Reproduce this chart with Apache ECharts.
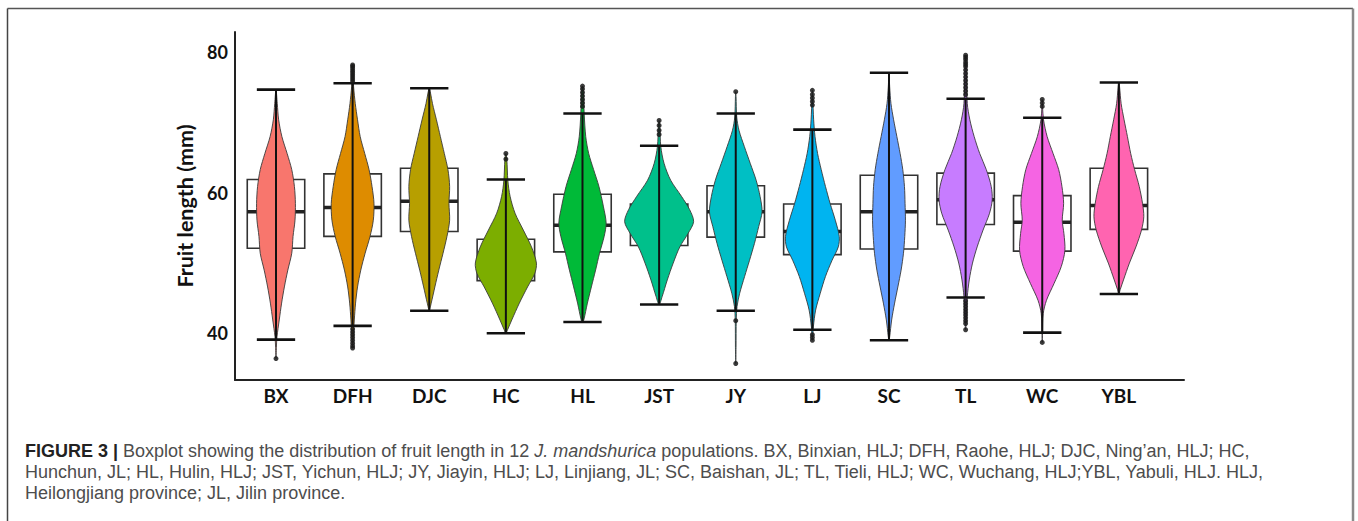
<!DOCTYPE html>
<html>
<head>
<meta charset="utf-8">
<script src="https://cdn.jsdelivr.net/npm/echarts@6/dist/echarts.min.js"></script>
<style>
html,body{margin:0;padding:0;background:#fff;}
#chart{width:1358px;height:521px;}
</style>
</head>
<body>
<div id="chart"></div>
<script>
// ---- data ----
const categories = ['BX','DFH','DJC','HC','HL','JST','JY','LJ','SC','TL','WC','YBL'];
const yTicks = [40, 60, 80];
const whiskerLow  = [39.1, 41.05, 43.2, 40.0, 41.6, 44.1, 43.2, 40.5, 39.0, 45.1, 40.1, 45.6];
const q1          = [52.1, 53.8, 54.5, 47.5, 51.6, 52.5, 53.7, 51.2, 52.0, 55.5, 51.7, 54.8];
const medians     = [57.3, 57.9, 58.8, 50.3, 55.4, 55.6, 57.3, 54.5, 57.3, 59.0, 55.8, 58.2];
const q3          = [61.9, 62.7, 63.5, 53.4, 59.8, 58.4, 61.0, 58.4, 62.5, 62.8, 59.6, 63.5];
const whiskerHigh = [74.7, 75.6, 74.9, 61.9, 71.3, 66.7, 71.3, 69.0, 77.1, 73.4, 70.7, 75.7];

const outliers = [
  [36.4],
  [75.9, 76.2, 76.5, 76.8, 77.1, 77.4, 77.7, 78.0, 78.2, 40.6, 40.2, 39.8, 39.4, 39.0, 38.6, 38.2, 37.9],
  [],
  [64.8, 65.6],
  [72.3, 72.8, 73.3, 73.8, 74.3, 74.8, 75.2],
  [68.3, 68.9, 69.6, 70.3],
  [74.4, 41.8, 35.7],
  [72.5, 73.0, 73.5, 74.0, 74.6, 39.8, 39.4, 39.0],
  [],
  [74.0, 74.5, 75.0, 75.5, 76.0, 76.5, 77.0, 77.5, 78.0, 78.3, 78.6, 79.0, 79.3, 79.6,
   44.6, 44.2, 43.8, 43.4, 43.0, 42.6, 42.2, 41.8, 41.4, 40.5],
  [72.3, 72.8, 73.3, 38.7],
  []
];

// violin density profiles: [fruit length, relative density], top to bottom
const violinBX  = [[74.7,0],[72.7,1.3],[70.4,2.7],[68.0,6],[65.6,11.3],[63.3,16],[60.9,18.7],[58.5,19.7],[56.1,19.3],[53.8,17.3],[51.4,16],[49.0,12],[46.6,8.5],[44.3,5.7],[41.9,3.3],[39.5,1],[38.0,0.4],[36.4,0]];
const violinDFH = [[78.2,0],[77.0,0.4],[75.1,1],[72.7,2.7],[70.4,5],[68.0,7.7],[65.6,12.3],[63.3,16.7],[60.9,19.7],[58.5,21.7],[56.1,21],[53.8,17.7],[51.4,12.7],[49.0,8.3],[46.6,5],[44.3,3],[41.9,1.7],[39.5,0.7],[37.9,0]];
const violinDJC = [[74.9,0],[74.2,1.3],[72.7,3.3],[70.4,7.3],[68.0,11.3],[65.6,15.3],[63.3,19],[60.9,20.7],[58.5,20],[56.1,20.7],[53.8,18],[51.4,14],[49.0,9.7],[46.6,5.7],[44.3,2],[43.3,0]];
const violinHC  = [[65.6,0],[64.7,1],[61.8,2],[59.5,4.3],[57.1,9.3],[54.7,17.7],[52.3,26],[50.0,31],[48.5,29.3],[46.6,22],[44.3,13.7],[41.9,6],[40.5,1.7],[40.0,0]];
const violinHL  = [[75.2,0],[74.2,1],[71.3,1.7],[68.0,3.3],[65.6,6.3],[63.3,11.3],[60.9,16.7],[58.0,21.3],[55.7,24],[53.8,22],[51.4,17.3],[49.0,13.3],[46.6,9],[44.3,5],[41.9,1.3],[41.6,0]];
const violinJST = [[70.3,0],[69.4,0.7],[66.6,1.7],[64.2,5],[61.8,11.7],[59.5,22.7],[57.6,31],[55.9,35],[54.2,29.3],[52.3,21],[50.0,14.3],[47.6,8.3],[45.2,3],[44.1,0]];
const violinJY  = [[74.4,0],[73.7,0.3],[70.8,1],[68.9,3.3],[66.6,8.7],[64.2,14.7],[61.8,20.7],[59.5,24.7],[57.3,26.7],[55.2,23.3],[52.8,19],[50.4,14],[48.1,9],[45.7,4],[43.8,1.3],[41.9,0.5],[38.0,0.3],[35.7,0]];
const violinLJ  = [[74.6,0],[73.7,0.3],[70.4,1.3],[68.0,2.7],[65.6,5.3],[63.3,9],[60.9,13.3],[58.5,18],[56.1,23.3],[53.8,27.3],[52.3,26.3],[50.4,20],[48.1,13.3],[45.7,8],[43.3,3.3],[40.9,1],[39.0,0]];
const violinSC  = [[77.1,0],[75.1,0.7],[72.7,2],[70.4,4.7],[68.0,8],[65.6,11.3],[63.3,14],[60.9,15.7],[58.5,16.3],[56.1,16.7],[53.8,16],[51.4,14.7],[49.0,12.3],[46.6,9],[44.3,5.7],[41.9,2.7],[39.5,0.7],[39.0,0]];
const violinTL  = [[79.6,0],[77.5,0.7],[72.7,1.7],[70.4,4.3],[68.0,8.7],[65.6,14.3],[63.3,21],[60.9,26],[59.0,27],[57.1,24.3],[54.7,17.7],[52.3,11.7],[50.0,7],[47.6,3.7],[45.2,1.7],[41.9,0.7],[40.5,0]];
const violinWC  = [[73.3,0],[72.3,0.3],[70.4,1.3],[68.0,5],[65.6,11],[63.3,16.7],[60.9,20],[58.5,21.7],[56.1,20.3],[54.2,22],[51.8,23],[49.5,19.3],[47.1,12],[44.7,4.3],[42.8,1],[40.1,0.3],[38.7,0]];
const violinYBL = [[75.7,0],[75.1,0.7],[72.7,2.3],[70.4,5.3],[68.0,8.7],[65.6,12],[63.3,16],[60.9,20.7],[58.5,24],[56.6,25.3],[54.7,23],[52.3,17.3],[50.0,10.7],[47.6,4.7],[46.2,1.3],[45.6,0]];

const violins = [violinBX, violinDFH, violinDJC, violinHC, violinHL, violinJST, violinJY, violinLJ, violinSC, violinTL, violinWC, violinYBL];
const fillColors = ['#F8766D','#DE8C00','#B79F00','#7CAE00','#00BA38','#00C08B','#00BFC4','#00B4F0','#619CFF','#C77CFF','#F564E3','#FF64B0'];

const captionLines = [
  '{b|FIGURE 3 |} Boxplot showing the distribution of fruit length in 12 {i|J. mandshurica} populations. BX, Binxian, HLJ; DFH, Raohe, HLJ; DJC, Ning\u2019an, HLJ; HC,',
  'Hunchun, JL; HL, Hulin, HLJ; JST, Yichun, HLJ; JY, Jiayin, HLJ; LJ, Linjiang, JL; SC, Baishan, JL; TL, Tieli, HLJ; WC, Wuchang, HLJ;YBL, Yabuli, HLJ. HLJ,',
  'Heilongjiang province; JL, Jilin province.'
];

// ---- chart ----
const maxDensity = Math.max(...violins.map(v => Math.max(...v.map(p => p[1]))));
const VIOLIN_HALF = 0.45, BOX_HALF = 0.375, CAP_HALF = 0.25;
const CAPTION_SIZE = 18;

const chart = echarts.init(document.getElementById('chart'), null, {renderer: 'svg'});

const boxData = categories.map((c, i) => [i, whiskerLow[i], q1[i], medians[i], q3[i], whiskerHigh[i]]);
const outlierData = [];
outliers.forEach((arr, i) => arr.forEach(v => outlierData.push([i, v])));

function renderItem(params, api) {
  const idx = params.dataIndex;
  const i = api.value(0);
  const wl = api.value(1), lo = api.value(2), md = api.value(3), hi = api.value(4), wh = api.value(5);
  const prof = violins[idx];
  const right = prof.map(p => api.coord([i + p[1] / maxDensity * VIOLIN_HALF, p[0]]));
  const left = [];
  for (let k = prof.length - 2; k >= 1; k--) {
    left.push(api.coord([i - prof[k][1] / maxDensity * VIOLIN_HALF, prof[k][0]]));
  }
  const pts = right.concat(left);
  const tl = api.coord([i - BOX_HALF, hi]);
  const br = api.coord([i + BOX_HALF, lo]);
  const mL = api.coord([i - BOX_HALF, md]);
  const mR = api.coord([i + BOX_HALF, md]);
  const wTop = api.coord([i, wh]);
  const wBot = api.coord([i, wl]);
  const cTL = api.coord([i - CAP_HALF, wh]), cTR = api.coord([i + CAP_HALF, wh]);
  const cBL = api.coord([i - CAP_HALF, wl]), cBR = api.coord([i + CAP_HALF, wl]);
  return {
    type: 'group',
    children: [
      {type: 'rect', shape: {x: tl[0], y: tl[1], width: br[0] - tl[0], height: br[1] - tl[1]},
       style: {fill: 'none', stroke: '#333', lineWidth: 1.6}},
      {type: 'line', shape: {x1: mL[0], y1: mL[1], x2: mR[0], y2: mR[1]},
       style: {stroke: '#222', lineWidth: 3.5}},
      {type: 'polygon', shape: {points: pts, smooth: 0.3},
       style: {fill: fillColors[idx], stroke: '#3a3a3a', lineWidth: 0.9}},
      {type: 'line', shape: {x1: wTop[0], y1: wTop[1], x2: wBot[0], y2: wBot[1]},
       style: {stroke: '#111', lineWidth: 2}},
      {type: 'line', shape: {x1: cTL[0], y1: cTL[1], x2: cTR[0], y2: cTR[1]},
       style: {stroke: '#111', lineWidth: 2.6}},
      {type: 'line', shape: {x1: cBL[0], y1: cBL[1], x2: cBR[0], y2: cBR[1]},
       style: {stroke: '#111', lineWidth: 2.6}}
    ]
  };
}

const option = {
  backgroundColor: '#fff',
  animation: false,
  grid: {left: 235, right: 174, top: 32, bottom: 141, containLabel: false},
  xAxis: {
    type: 'value', min: -0.535, max: 11.85,
    axisLine: {show: true, onZero: false, lineStyle: {color: '#222', width: 2}},
    axisTick: {show: false},
    splitLine: {show: false},
    axisLabel: {
      customValues: categories.map((c, i) => i),
      formatter: v => categories[Math.round(v)],
      fontFamily: 'Lato', fontWeight: 'bold', fontSize: 19, color: '#111', margin: 6
    }
  },
  yAxis: {
    type: 'value', min: 33.35, max: 82.9,
    name: 'Fruit length (mm)', nameLocation: 'middle', nameGap: 38,
    nameTextStyle: {fontFamily: 'Lato', fontWeight: 'bold', fontSize: 21.5, color: '#111'},
    axisLine: {show: true, onZero: false, lineStyle: {color: '#222', width: 2}},
    axisTick: {show: false},
    splitLine: {show: false},
    axisLabel: {
      customValues: yTicks,
      fontFamily: 'Lato', fontWeight: 'bold', fontSize: 18, color: '#111', margin: 7
    }
  },
  series: [
    {type: 'custom', renderItem: renderItem, data: boxData, clip: false, z: 2,
     encode: {x: 0, y: [1, 2, 3, 4, 5]}},
    {type: 'scatter', data: outlierData, symbolSize: 5, z: 3,
     itemStyle: {color: '#1a1a1a', opacity: 0.85}}
  ],
  graphic: [
    {type: 'line', shape: {x1: 7.5, y1: 8.5, x2: 1353, y2: 8.5}, style: {stroke: '#555', lineWidth: 1.5}},
    {type: 'line', shape: {x1: 7.5, y1: 8.5, x2: 7.5, y2: 521}, style: {stroke: '#444', lineWidth: 1.5}},
    {type: 'line', shape: {x1: 1353, y1: 8.5, x2: 1353, y2: 521}, style: {stroke: '#8a8a8a', lineWidth: 2.5}},
  ].concat(captionLines.map((t, k) => ({
    type: 'text', x: 25, y: [451, 471.5, 492.5][k],
    style: {
      text: t, fill: '#4d4d4d', fontFamily: 'Liberation Sans', fontSize: CAPTION_SIZE, verticalAlign: 'middle',
      rich: {
        b: {fontFamily: 'Liberation Sans', fontWeight: 'bold', fill: '#222', fontSize: CAPTION_SIZE},
        i: {fontFamily: 'Liberation Sans', fontStyle: 'italic', fill: '#4d4d4d', fontSize: CAPTION_SIZE}
      }
    }
  })))
};
chart.setOption(option);
</script>
</body>
</html>
